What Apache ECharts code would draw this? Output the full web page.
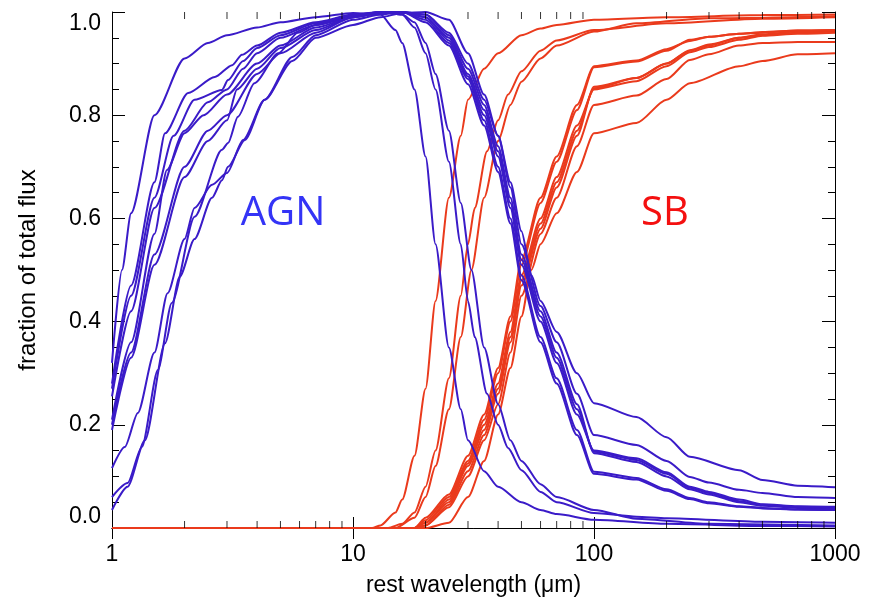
<!DOCTYPE html>
<html>
<head>
<meta charset="utf-8">
<script src="https://cdn.jsdelivr.net/npm/echarts@6/dist/echarts.min.js"></script>
<style>
  html, body { margin: 0; padding: 0; background: #fff; }
  #main { width: 872px; height: 606px; }
</style>
</head>
<body>
<div id="main"></div>
<script>
// AGN fraction curves [wavelength (um), fraction]
var agn1 = [[1,0.32],[1.1,0.5],[1.2,0.61],[1.5,0.8],[2,0.91],[2.5,0.94],[3,0.955],[4,0.97],[5,0.98],[7,0.99],[10,0.998],[13,0.995],[15,0.965],[16,0.94],[18,0.85],[20,0.72],[22,0.55],[25,0.35],[28,0.23],[30,0.17],[35,0.11],[40,0.08],[50,0.05],[60,0.035],[70,0.027],[100,0.016],[200,0.008],[500,0.004],[1000,0.003]];
var agn2 = [[1,0.28],[1.2,0.47],[1.5,0.67],[1.66,0.765],[2.07,0.843],[2.67,0.874],[3.15,0.897],[3.46,0.917],[4,0.935],[5,0.96],[7,0.98],[10,0.995],[13,1],[16,0.995],[18,0.97],[20,0.92],[22,0.85],[25,0.71],[28,0.55],[30,0.44],[32,0.37],[36,0.26],[40,0.2],[44,0.155],[50,0.112],[60,0.07],[70,0.05],[100,0.029],[150,0.022],[200,0.019],[500,0.012],[1000,0.01]];
var agn3 = [[1,0.255],[1.2,0.42],[1.5,0.62],[2,0.77],[2.5,0.825],[3,0.85],[3.5,0.89],[4,0.92],[5,0.95],[7,0.975],[10,0.993],[13,1],[16,0.995],[18,0.98],[20,0.94],[22,0.88],[25,0.77],[28,0.63],[31,0.5],[35,0.35],[40,0.24],[45,0.17],[50,0.13],[60,0.085],[70,0.06],[100,0.035],[150,0.018],[300,0.008],[1000,0.005]];
var agn4 = [[1,0.2],[1.2,0.34],[1.5,0.53],[2,0.7],[2.5,0.77],[3,0.8],[4,0.88],[5,0.92],[7,0.96],[10,0.99],[13,0.998],[16,1],[20,0.995],[25,0.96],[30,0.9],[35,0.83],[40,0.76],[45,0.66],[50,0.55],[60,0.43],[70,0.36],[85,0.26],[100,0.18],[150,0.161],[200,0.13],[250,0.099],[300,0.088],[400,0.074],[500,0.068],[700,0.06],[1000,0.058]];
var agn5 = [[1,0.19],[1.2,0.33],[1.5,0.51],[2,0.68],[2.5,0.75],[3,0.79],[3.3,0.85],[4,0.89],[5,0.93],[7,0.965],[10,0.99],[13,0.998],[16,1],[20,0.99],[25,0.95],[30,0.88],[35,0.81],[40,0.73],[45,0.63],[50,0.52],[60,0.41],[70,0.33],[85,0.23],[100,0.148],[150,0.132],[200,0.105],[250,0.078],[300,0.068],[400,0.052],[500,0.045],[700,0.041],[1000,0.04]];
var agn6 = [[1,0.116],[1.13,0.157],[1.28,0.223],[1.5,0.34],[1.7,0.455],[2,0.56],[2.2,0.62],[2.6,0.665],[3,0.688],[3.5,0.752],[4.3,0.83],[5.6,0.913],[7,0.955],[10,0.985],[13,0.995],[16,1],[20,0.995],[25,0.955],[30,0.89],[35,0.82],[40,0.74],[45,0.64],[50,0.53],[60,0.42],[70,0.34],[85,0.24],[100,0.145],[150,0.128],[200,0.1],[250,0.075],[300,0.065],[400,0.05],[500,0.043],[700,0.039],[1000,0.038]];
var agn7 = [[1,0.06],[1.16,0.087],[1.33,0.157],[1.55,0.306],[1.77,0.436],[2.2,0.603],[2.86,0.733],[3.03,0.746],[3.33,0.797],[3.9,0.862],[4.9,0.92],[5.9,0.96],[7,0.975],[10,0.99],[13,0.998],[16,1],[20,0.985],[25,0.94],[30,0.87],[35,0.79],[40,0.7],[45,0.6],[50,0.49],[60,0.37],[70,0.29],[85,0.19],[100,0.109],[150,0.097],[200,0.075],[250,0.058],[300,0.05],[400,0.042],[500,0.039],[700,0.036],[1000,0.035]];
var agn8 = [[1,0.035],[1.16,0.08],[1.37,0.17],[1.66,0.358],[1.91,0.487],[2.2,0.56],[2.6,0.64],[2.86,0.674],[3.03,0.7],[3.56,0.752],[4.3,0.83],[5.6,0.905],[7,0.95],[10,0.975],[13,0.99],[16,0.998],[20,1],[25,0.985],[30,0.92],[35,0.84],[40,0.76],[45,0.67],[50,0.575],[55,0.49],[60,0.44],[70,0.38],[85,0.3],[100,0.242],[150,0.215],[200,0.176],[250,0.138],[400,0.112],[500,0.093],[700,0.082],[1000,0.079]];
var agn9 = [[1,0.27],[1.2,0.45],[1.5,0.64],[1.8,0.76],[2.2,0.83],[2.86,0.849],[3.03,0.868],[3.5,0.905],[4,0.93],[5,0.955],[7,0.978],[10,0.994],[13,1],[16,1],[20,0.99],[25,0.945],[30,0.875],[35,0.8],[40,0.72],[45,0.62],[50,0.51],[60,0.4],[70,0.32],[85,0.22],[100,0.15],[150,0.135],[200,0.108],[250,0.08],[300,0.07],[400,0.055],[500,0.046],[700,0.042],[1000,0.041]];
var agn10 = [[1,0.21],[1.2,0.36],[1.5,0.57],[1.69,0.694],[2,0.765],[2.4,0.8],[3,0.84],[4,0.9],[5,0.935],[7,0.97],[10,0.99],[13,1],[16,1],[20,0.98],[25,0.935],[30,0.86],[35,0.78],[40,0.69],[45,0.59],[50,0.48],[60,0.36],[70,0.28],[85,0.18],[100,0.105],[150,0.094],[200,0.072],[250,0.056],[300,0.048],[400,0.041],[500,0.038],[700,0.036],[1000,0.035]];

// starburst fraction curves
var sb1 = [[1,0],[12,0],[13,0.005],[15,0.03],[16,0.055],[18,0.14],[20,0.27],[22,0.44],[25,0.64],[28,0.76],[30,0.83],[35,0.89],[40,0.92],[50,0.955],[60,0.968],[70,0.975],[100,0.985],[200,0.99],[500,0.994],[1000,0.995]];
var sb2 = [[1,0],[14,0],[16,0.008],[18,0.03],[20,0.08],[22,0.15],[25,0.29],[28,0.45],[30,0.55],[32,0.62],[36,0.73],[40,0.79],[44,0.84],[50,0.885],[60,0.925],[70,0.945],[100,0.965],[200,0.978],[500,0.987],[1000,0.99]];
var sb3 = [[1,0],[15,0],[18,0.02],[20,0.06],[22,0.12],[25,0.23],[28,0.37],[31,0.5],[35,0.64],[40,0.75],[45,0.82],[50,0.865],[60,0.91],[70,0.935],[100,0.962],[150,0.978],[300,0.988],[1000,0.992]];
var sb4 = [[1,0],[18,0],[20,0.005],[25,0.04],[30,0.1],[35,0.17],[40,0.24],[45,0.34],[50,0.45],[60,0.57],[70,0.64],[85,0.74],[100,0.82],[150,0.838],[200,0.87],[250,0.907],[300,0.918],[400,0.935],[500,0.94],[700,0.942],[1000,0.942]];
var sb5 = [[1,0],[18,0],[20,0.01],[25,0.05],[30,0.12],[35,0.19],[40,0.27],[45,0.37],[50,0.48],[60,0.59],[70,0.67],[85,0.77],[100,0.852],[150,0.872],[200,0.9],[250,0.926],[300,0.937],[400,0.95],[500,0.955],[700,0.96],[1000,0.962]];
var sb6 = [[1,0],[18,0],[20,0.005],[25,0.045],[30,0.11],[35,0.18],[40,0.26],[45,0.36],[50,0.47],[60,0.58],[70,0.66],[85,0.76],[100,0.855],[150,0.872],[200,0.9],[250,0.925],[300,0.935],[400,0.95],[500,0.957],[700,0.962],[1000,0.963]];
var sb7 = [[1,0],[18,0],[20,0.015],[25,0.06],[30,0.13],[35,0.21],[40,0.3],[45,0.4],[50,0.51],[60,0.63],[70,0.71],[85,0.81],[100,0.893],[150,0.904],[200,0.925],[250,0.946],[300,0.952],[400,0.958],[500,0.96],[700,0.964],[1000,0.965]];
var sb8 = [[1,0],[20,0],[25,0.01],[30,0.06],[35,0.13],[40,0.22],[45,0.31],[50,0.41],[55,0.5],[60,0.55],[70,0.61],[85,0.69],[100,0.765],[150,0.785],[200,0.83],[250,0.862],[400,0.895],[500,0.905],[700,0.918],[1000,0.92]];
var sb9 = [[1,0],[18,0],[20,0.01],[25,0.055],[30,0.125],[35,0.2],[40,0.28],[45,0.38],[50,0.49],[60,0.6],[70,0.68],[85,0.78],[100,0.85],[150,0.866],[200,0.895],[250,0.922],[300,0.932],[400,0.946],[500,0.954],[700,0.958],[1000,0.96]];
var sb10 = [[1,0],[18,0],[20,0.02],[25,0.065],[30,0.14],[35,0.22],[40,0.31],[45,0.41],[50,0.52],[60,0.64],[70,0.72],[85,0.82],[100,0.895],[150,0.906],[200,0.928],[250,0.944],[300,0.952],[400,0.958],[500,0.961],[700,0.964],[1000,0.965]];

var xMinorTicks = [2,3,4,5,6,7,8,9,20,30,40,50,60,70,80,90,200,300,400,500,600,700,800,900];

var agnCurves = [agn1, agn2, agn3, agn4, agn5, agn6, agn7, agn8, agn9, agn10];
var sbCurves = [sb1, sb2, sb3, sb4, sb5, sb6, sb7, sb8, sb9, sb10];

var blue = '#3a1bc8';
var red = '#ea3a1c';
var font = 'Liberation Sans';

var chart = echarts.init(document.getElementById('main'));

var series = [];
sbCurves.forEach(function (d) {
  series.push({
    type: 'line', data: d, xAxisIndex: 0, yAxisIndex: 0,
    showSymbol: false, smooth: 0.25, smoothMonotone: 'x', silent: true,
    lineStyle: { color: red, width: 2 }, z: 2
  });
});
agnCurves.forEach(function (d) {
  series.push({
    type: 'line', data: d, xAxisIndex: 0, yAxisIndex: 0,
    showSymbol: false, smooth: 0.25, smoothMonotone: 'x', silent: true,
    lineStyle: { color: blue, width: 2 }, z: 3
  });
});
// minor ticks of the log axis, bottom and top
series.push({
  type: 'scatter', silent: true, clip: false, z: 5,
  data: xMinorTicks.map(function (v) { return [v, 0]; }),
  symbol: 'rect', symbolSize: [1, 7], symbolOffset: [0, -3.5],
  itemStyle: { color: '#000' }
});
series.push({
  type: 'scatter', silent: true, clip: false, z: 5,
  data: xMinorTicks.map(function (v) { return [v, 1]; }),
  symbol: 'rect', symbolSize: [1, 7], symbolOffset: [0, 3.5],
  itemStyle: { color: '#000' }
});

var option = {
  animation: false,
  backgroundColor: '#fff',
  grid: { left: 112, right: 37, top: 12, bottom: 78 },
  xAxis: [{
    type: 'log', min: 1, max: 1000, logBase: 10,
    name: 'rest wavelength (\u03bcm)', nameLocation: 'middle', nameGap: 46,
    nameTextStyle: { fontFamily: font, fontSize: 23, color: '#000' },
    axisLine: { lineStyle: { color: '#000', width: 1 } },
    axisTick: { inside: true, length: 11, lineStyle: { color: '#000' } },
    axisLabel: {
      fontFamily: font, fontSize: 23, color: '#000', margin: 15,
      formatter: function (v) { return String(Math.round(v)); }
    },
    splitLine: { show: false }
  }, {
    type: 'log', min: 1, max: 1000, logBase: 10, position: 'top',
    axisLine: { lineStyle: { color: '#000', width: 1 } },
    axisTick: { inside: true, length: 11, lineStyle: { color: '#000' } },
    axisLabel: { show: false },
    splitLine: { show: false }
  }],
  yAxis: [{
    type: 'value', min: 0, max: 1, interval: 0.2,
    name: 'fraction of total flux', nameLocation: 'middle', nameGap: 72,
    nameTextStyle: { fontFamily: font, fontSize: 24, color: '#000' },
    axisLine: { show: true, lineStyle: { color: '#000', width: 1 } },
    axisTick: { inside: true, length: 13, lineStyle: { color: '#000' } },
    minorTick: { show: true, splitNumber: 4, length: 7, lineStyle: { color: '#000' } },
    axisLabel: {
      fontFamily: font, fontSize: 23, color: '#000', margin: 11,
      verticalAlignMinLabel: 'bottom', verticalAlignMaxLabel: 'top',
      formatter: function (v) { return v.toFixed(1); }
    },
    splitLine: { show: false }
  }, {
    type: 'value', min: 0, max: 1, interval: 0.2, position: 'right',
    axisLine: { show: true, lineStyle: { color: '#000', width: 1 } },
    axisTick: { inside: true, length: 13, lineStyle: { color: '#000' } },
    minorTick: { show: true, splitNumber: 4, length: 7, lineStyle: { color: '#000' } },
    axisLabel: { show: false },
    splitLine: { show: false }
  }],
  graphic: [{
    type: 'text', x: 283, y: 214, z: 10,
    style: { text: 'AGN', font: '40px "Open Sans"', fill: '#3434f6', align: 'center', verticalAlign: 'middle' }
  }, {
    type: 'text', x: 665, y: 214, z: 10,
    style: { text: 'SB', font: '40px "Open Sans"', fill: '#f41010', align: 'center', verticalAlign: 'middle' }
  }],
  series: series
};

chart.setOption(option);
</script>
</body>
</html>
